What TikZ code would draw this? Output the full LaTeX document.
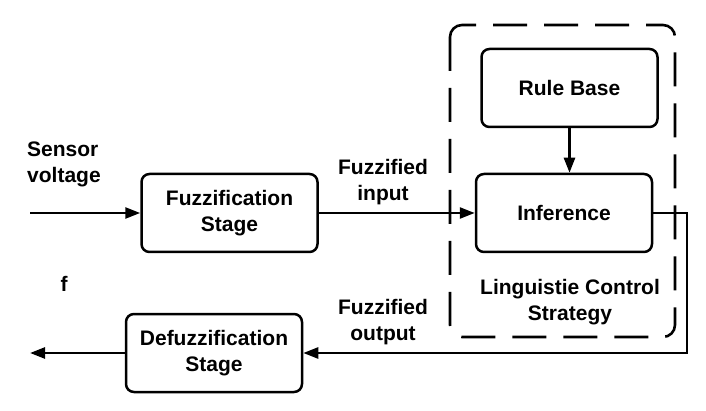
\documentclass[tikz,border=0pt]{standalone}
\usepackage{fontspec}
\setmainfont{Liberation Sans}
\usetikzlibrary{arrows.meta}

\tikzset{
	stagebox/.style={draw,line width=2.5pt,rounded corners=8pt,minimum width=176pt,minimum height=78pt,align=center},
	arr/.style={line width=2.5pt,-{Triangle[length=15pt,width=11pt]}},
	lbl/.style={align=center,inner sep=0pt}
}

\begin{document}
\begin{tikzpicture}[x=1pt,y=-1pt,font=\fontsize{21}{26}\selectfont\bfseries]
		\useasboundingbox (0,0) rectangle (706,411);
		% controller block
		\draw[line width=2.6pt,dash pattern=on 34pt off 17pt,rounded corners=12pt](450,25) rectangle (675,337);
		\node[stagebox] (rule) at (569.5,88) {Rule Base};
		\node[stagebox] (inf) at (564,213) {Inference};
		\node[stagebox] (fuzz) at (229.5,213) {Fuzzification\\Stage};
		\node[stagebox] (defuzz) at (214,353) {Defuzzification\\Stage};
		\coordinate (sv) at (30,213);
		\coordinate (ret) at (687,353);
		\coordinate (out) at (30,353);
		\draw[arr](sv)--(fuzz);
		\draw[arr](fuzz)--(inf);
		\draw[arr](rule.south)--(rule.south|-inf.north);
		\draw[arr](inf.east)-|(ret)--(defuzz);
		\draw[arr](defuzz)--(out);
		% texts
		\node[lbl,align=left,anchor=west] (svtext) at (27,164) {Sensor\\voltage};
		\node[lbl] (intext) at (383,182) {Fuzzified\\input};
		\node[lbl] (outtext) at (383,322) {Fuzzified\\output};
		\node[lbl] (lcs) at (570,302) {Linguistie Control\\Strategy};
		\node[lbl] (f) at (64,284) {f};
		\end{tikzpicture}
\end{document}
